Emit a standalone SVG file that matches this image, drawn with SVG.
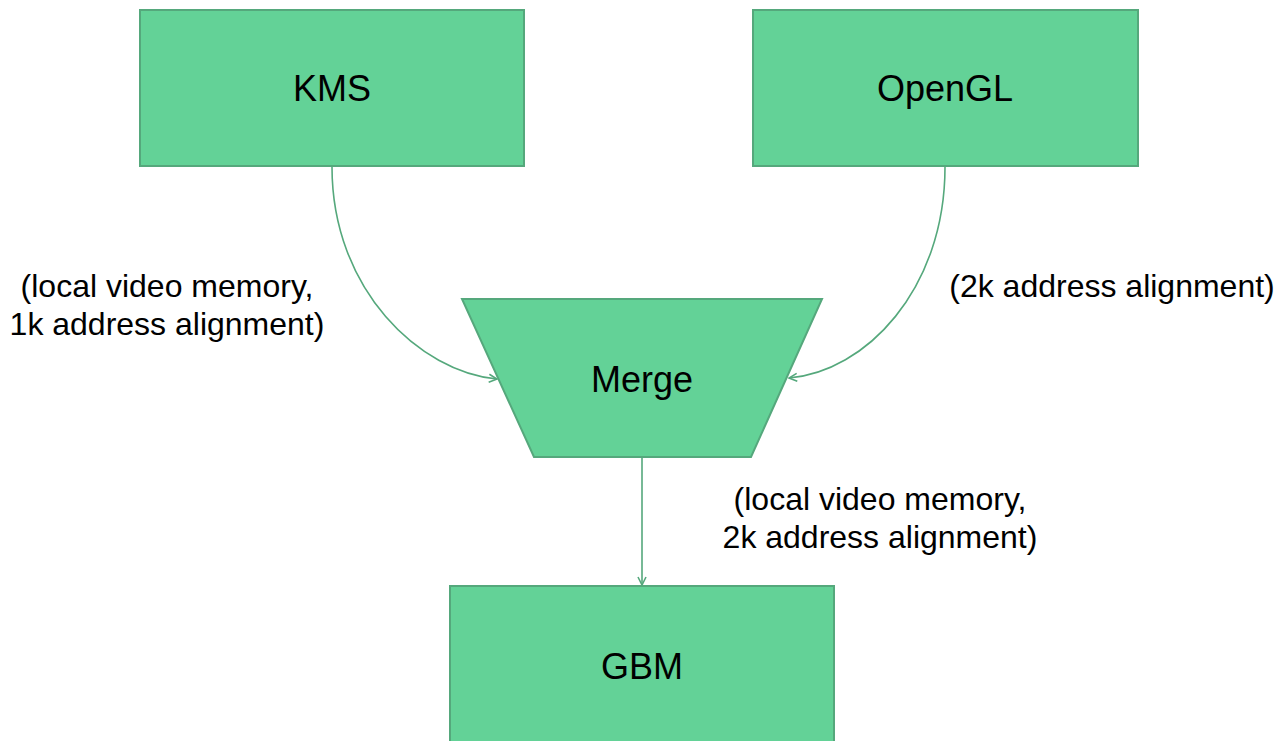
<svg xmlns="http://www.w3.org/2000/svg" width="1280" height="741" viewBox="0 0 1280 741">
<style>
.node{fill:#63d297;stroke:#55a87c;stroke-width:2}
.lbl{font-family:"Liberation Sans",Arial,sans-serif;font-size:36px;fill:#000;text-anchor:middle}
.ann{font-family:"Liberation Sans",Arial,sans-serif;font-size:32px;fill:#000;text-anchor:middle}
.edge{fill:none;stroke:#55a87c;stroke-width:1.6}
</style>
<defs>
<marker id="arr" viewBox="0 0 10 10" refX="9" refY="5" markerWidth="10" markerHeight="10" markerUnits="userSpaceOnUse" orient="auto">
<path d="M1,1 L9,5 L1,9" fill="none" stroke="#55a87c" stroke-width="1.6"/>
</marker>
</defs>
<rect width="1280" height="741" fill="#fff"/>
<g id="connectors">
<path class="edge" d="M332,167 C332,290 420,372 497,379" marker-end="url(#arr)"/>
<path class="edge" d="M945,167 C945,290 865,372 789,378" marker-end="url(#arr)"/>
<path class="edge" d="M642,457 L642,585" marker-end="url(#arr)"/>
</g>
<g id="kms">
<rect class="node" x="140" y="10" width="384" height="156"/>
<text class="lbl" x="332" y="101">KMS</text>
</g>
<g id="opengl">
<rect class="node" x="753" y="10" width="385" height="156"/>
<text class="lbl" x="945" y="101">OpenGL</text>
</g>
<g id="merge">
<polygon class="node" points="462,299 822,299 751,457 534,457"/>
<text class="lbl" x="642" y="392">Merge</text>
</g>
<g id="gbm">
<rect class="node" x="450" y="586" width="384" height="160"/>
<text class="lbl" x="642" y="679">GBM</text>
</g>
<g id="labels">
<text class="ann" x="167" y="297">(local video memory,</text>
<text class="ann" x="167" y="335">1k address alignment)</text>
<text class="ann" x="1112" y="297">(2k address alignment)</text>
<text class="ann" x="880" y="510">(local video memory,</text>
<text class="ann" x="880" y="548">2k address alignment)</text>
</g>
</svg>
